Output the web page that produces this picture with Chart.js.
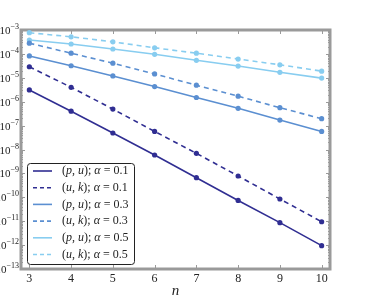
<!DOCTYPE html>
<html>
<head>
<meta charset="utf-8">
<script src="https://cdn.jsdelivr.net/npm/chart.js@4/dist/chart.umd.min.js"></script>
<style>
  html, body { margin: 0; padding: 0; background: #fff; }
  canvas { display: block; }
</style>
</head>
<body>
<canvas id="chart" width="371" height="300"></canvas>
<script>
// n values on the x axis
const nValues = [3, 4, 5, 6, 7, 8, 9, 10];

// error values
const puAlpha01 = [3.1e-6, 4.0e-7, 4.9e-8, 5.9e-9, 6.6e-10, 7.4e-11, 8.7e-12, 9.5e-13];
const ukAlpha01 = [2.9e-5, 4.0e-6, 4.9e-7, 5.7e-8, 6.9e-9, 7.8e-10, 8.5e-11, 9.5e-12];
const puAlpha03 = [8.2e-5, 3.2e-5, 1.2e-5, 4.3e-6, 1.5e-6, 5.3e-7, 1.7e-7, 5.7e-8];
const ukAlpha03 = [2.8e-4, 1.07e-4, 4.1e-5, 1.45e-5, 4.9e-6, 1.7e-6, 5.6e-7, 1.95e-7];
const puAlpha05 = [3.8e-4, 2.6e-4, 1.6e-4, 9.6e-5, 5.4e-5, 3.1e-5, 1.7e-5, 9.7e-6];
const ukAlpha05 = [7.7e-4, 5.2e-4, 3.2e-4, 1.8e-4, 1.07e-4, 6.1e-5, 3.5e-5, 1.9e-5];

// decade exponents for the y ticks
const yExponents = [-3, -4, -5, -6, -7, -8, -9, -10, -11, -12, -13];

const dark = '#302e92';
const mid = '#5b8fd1';
const light = '#88cdf0';
const serif = '"Liberation Serif", "DejaVu Serif", serif';

function series(label, values, color, dashed, pair, alpha) {
    return {
        label: label,
        pair: pair,
        alpha: alpha,
        data: nValues.map((n, i) => ({ x: n, y: values[i] })),
        borderColor: color,
        backgroundColor: color,
        borderWidth: 1.6,
        borderDash: dashed ? [5, 4] : [],
        pointRadius: 2.6,
        pointBorderWidth: 0,
        fill: false
    };
}

// gray frame with inward ticks, like the original plot
const framePlugin = {
    id: 'frame',
    beforeDatasetsDraw(chart) {
        const { ctx, chartArea: a, scales } = chart;
        ctx.save();
        ctx.strokeStyle = '#9a9a9a';
        ctx.lineWidth = 1;
        // x ticks top and bottom
        nValues.forEach(n => {
            const x = Math.round(scales.x.getPixelForValue(n)) + 0.5;
            ctx.beginPath();
            ctx.moveTo(x, a.bottom); ctx.lineTo(x, a.bottom - 4);
            ctx.moveTo(x, a.top); ctx.lineTo(x, a.top + 4);
            ctx.stroke();
        });
        // y ticks left and right, minor ones too
        for (let e = -13; e <= -3; e++) {
            for (let m = 1; m <= 9; m++) {
                const v = m * Math.pow(10, e);
                if (v > 1e-3 * 1.0001) break;
                const y = Math.round(scales.y.getPixelForValue(v)) + 0.5;
                const len = m === 1 ? 4 : 2;
                ctx.beginPath();
                ctx.moveTo(a.left, y); ctx.lineTo(a.left + len, y);
                ctx.moveTo(a.right, y); ctx.lineTo(a.right - len, y);
                ctx.stroke();
            }
        }
        ctx.lineWidth = 3;
        ctx.strokeRect(a.left, a.top, a.right - a.left, a.bottom - a.top);

        // y labels as 10 with a raised exponent
        ctx.fillStyle = '#222';
        ctx.textBaseline = 'alphabetic';
        yExponents.forEach(e => {
            const y = scales.y.getPixelForValue(Math.pow(10, e));
            const sup = '\u2212' + Math.abs(e);
            ctx.font = '8px ' + serif;
            const sw = ctx.measureText(sup).width;
            const right = 19;
            ctx.fillText(sup, right - sw, y - 1);
            ctx.font = '11px ' + serif;
            const bw = ctx.measureText('10').width;
            ctx.fillText('10', right - sw - bw, y + 4);
        });
        ctx.restore();
    }
};

// legend box drawn inside the plot, bottom left
const legendPlugin = {
    id: 'innerLegend',
    afterDraw(chart) {
        const ctx = chart.ctx;
        const box = { x: 27.5, y: 163.5, w: 107, h: 101 };
        ctx.save();
        ctx.fillStyle = 'rgba(255,255,255,0.9)';
        ctx.strokeStyle = '#222';
        ctx.lineWidth = 1;
        ctx.beginPath();
        ctx.roundRect(box.x, box.y, box.w, box.h, 3);
        ctx.fill();
        ctx.stroke();
        chart.data.datasets.forEach((ds, i) => {
            const y = 171 + i * 16.7;
            ctx.strokeStyle = ds.borderColor;
            ctx.lineWidth = ds.borderWidth;
            ctx.setLineDash(ds.borderDash.length ? [4, 3] : []);
            ctx.beginPath();
            ctx.moveTo(33, y); ctx.lineTo(52, y);
            ctx.stroke();
            ctx.setLineDash([]);
            const parts = [
                ['(', false], [ds.pair[0], true], [', ', false], [ds.pair[1], true],
                ['); ', false], ['α', true], [' = ' + ds.alpha, false]
            ];
            let x = 62;
            ctx.fillStyle = '#222';
            ctx.textBaseline = 'middle';
            parts.forEach(([t, it]) => {
                ctx.font = (it ? 'italic ' : '') + '12px ' + serif;
                ctx.fillText(t, x, y);
                x += ctx.measureText(t).width;
            });
        });
        ctx.restore();
    }
};

new Chart(document.getElementById('chart'), {
    type: 'line',
    data: {
        datasets: [
            series('(p,u); α = 0.1', puAlpha01, dark, false, ['p', 'u'], '0.1'),
            series('(u,k); α = 0.1', ukAlpha01, dark, true, ['u', 'k'], '0.1'),
            series('(p,u); α = 0.3', puAlpha03, mid, false, ['p', 'u'], '0.3'),
            series('(u,k); α = 0.3', ukAlpha03, mid, true, ['u', 'k'], '0.3'),
            series('(p,u); α = 0.5', puAlpha05, light, false, ['p', 'u'], '0.5'),
            series('(u,k); α = 0.5', ukAlpha05, light, true, ['u', 'k'], '0.5')
        ]
    },
    options: {
        responsive: false,
        animation: false,
        devicePixelRatio: 1,
        layout: { padding: { top: 30, right: 41, left: 0, bottom: 0 } },
        plugins: {
            legend: { display: false },
            tooltip: { enabled: false }
        },
        scales: {
            x: {
                type: 'linear',
                min: 2.8,
                max: 10.2,
                afterBuildTicks: scale => { scale.ticks = nValues.map(v => ({ value: v })); },
                afterFit: scale => { scale.height = 31; },
                grid: { display: false, drawTicks: false },
                border: { display: false },
                ticks: { color: '#222', font: { family: serif, size: 12 }, padding: 3 },
                title: { display: true, text: 'n', color: '#222', padding: { top: 0, bottom: 0 }, font: { family: serif, size: 15, style: 'italic' } }
            },
            y: {
                type: 'logarithmic',
                min: 1e-13,
                max: 1e-3,
                afterBuildTicks: scale => { scale.ticks = yExponents.map(e => ({ value: Math.pow(10, e) })); },
                afterFit: scale => { scale.width = 21; },
                grid: { display: false },
                border: { display: false },
                ticks: { display: false }
            }
        }
    },
    plugins: [framePlugin, legendPlugin]
});
</script>
</body>
</html>
